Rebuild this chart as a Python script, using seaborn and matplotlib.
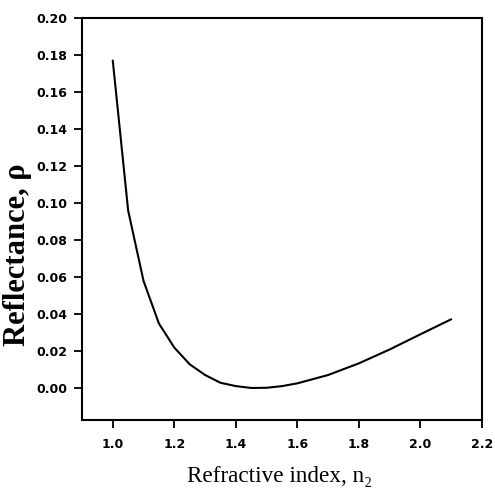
import matplotlib
matplotlib.use("Agg")
import matplotlib.pyplot as plt
import seaborn as sns
import pandas as pd

# Data
n2 = [1.0, 1.05, 1.1, 1.15, 1.2, 1.25, 1.3, 1.35, 1.4, 1.45, 1.5, 1.55,
      1.6, 1.7, 1.8, 1.9, 2.0, 2.1]
rho = [0.177, 0.096, 0.058, 0.035, 0.022, 0.013, 0.0072, 0.003, 0.0012,
       0.0002, 0.0003, 0.0012, 0.0027, 0.0072, 0.0135, 0.021, 0.0292, 0.0373]
x_ticks = [1.0, 1.2, 1.4, 1.6, 1.8, 2.0, 2.2]
y_ticks = [0.00, 0.02, 0.04, 0.06, 0.08, 0.10, 0.12, 0.14, 0.16, 0.18, 0.20]

sns.set_style("ticks")
plt.rcParams["font.family"] = ["DejaVu Sans"]
plt.rcParams["text.color"] = "black"
plt.rcParams["axes.labelcolor"] = "black"
plt.rcParams["xtick.color"] = "black"
plt.rcParams["ytick.color"] = "black"

df = pd.DataFrame({"n2": n2, "rho": rho})

fig = plt.figure(figsize=(4.95, 4.9), dpi=100)
ax = fig.add_axes([82 / 495, 1 - 420 / 490, (482 - 82) / 495, (420 - 18) / 490])

sns.lineplot(data=df, x="n2", y="rho", color="black", linewidth=1.5, ax=ax)

ax.set_xlim(0.9, 2.2)
ax.set_ylim(-0.0171, 0.20)
ax.set_xticks(x_ticks)
ax.set_yticks(y_ticks)
ax.set_xticklabels([f"{v:.1f}" for v in x_ticks], fontsize=9, fontweight="bold")
ax.set_yticklabels([f"{v:.2f}" for v in y_ticks], fontsize=9, fontweight="bold")

for s in ax.spines.values():
    s.set_visible(True)
    s.set_linewidth(1.5)
    s.set_color("black")

ax.tick_params(axis="both", direction="out", length=6, width=1.3, color="black",
               labelcolor="black", top=False, right=False)
ax.tick_params(axis="x", pad=7)
ax.tick_params(axis="y", pad=4.5)

serif = ["Liberation Serif", "DejaVu Serif"]
ax.set_xlabel("Refractive index, n\u2082", fontsize=16.7, family=serif, color="black")
ax.set_ylabel("Reflectance, \u03c1", fontsize=22, family=serif, fontweight="bold",
              color="black")
ax.xaxis.set_label_coords(0.495, -0.115)
ax.yaxis.set_label_coords(-0.125, 0.41)

fig.savefig("out.png", dpi=100)
